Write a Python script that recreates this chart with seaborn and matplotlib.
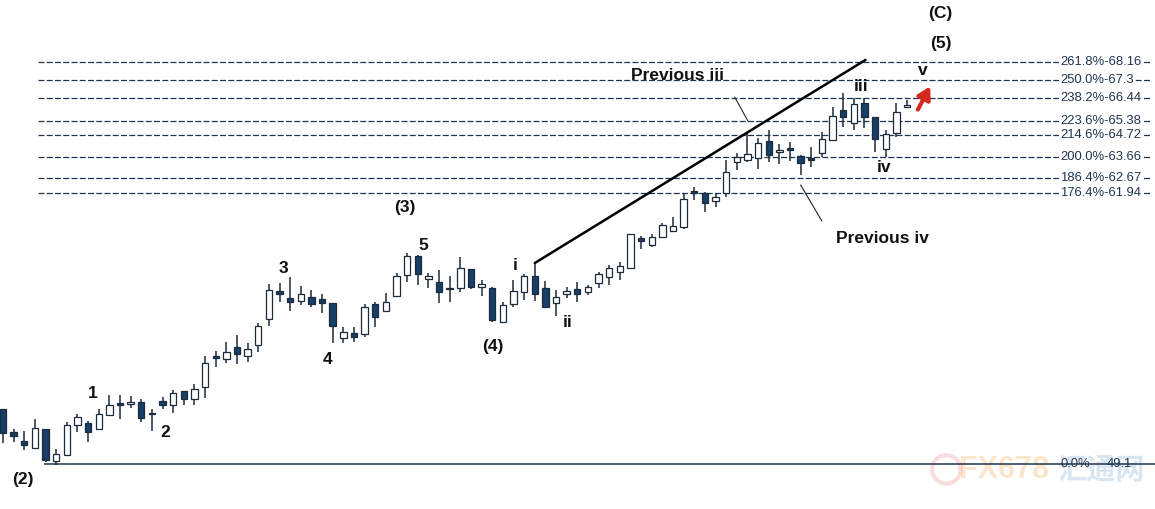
import numpy as np
import pandas as pd
import matplotlib
matplotlib.use('Agg')
import matplotlib.pyplot as plt
import seaborn as sns

sns.set_theme(style='white')
plt.rcParams['font.family'] = ['Liberation Sans', 'Noto Sans CJK SC', 'DejaVu Sans']

# candles (price units)
opens = [51.71, 50.62, 50.20, 49.86, 50.76, 49.25, 49.53, 50.95, 51.05, 50.76,
         51.43, 52.00, 51.95, 52.05, 51.52, 52.09, 51.90, 52.57, 52.19, 52.76,
         54.23, 54.08, 54.65, 54.23, 54.75, 55.98, 57.31, 56.97, 56.83, 57.02,
         56.93, 56.74, 55.08, 55.32, 55.27, 56.69, 56.36, 57.07, 58.07, 58.97,
         57.88, 57.73, 57.45, 57.45, 58.35, 57.50, 57.45, 55.84, 56.69, 57.26,
         58.02, 57.45, 56.74, 57.16, 57.40, 57.26, 57.69, 57.97, 58.21, 58.40,
         59.82, 59.49, 59.87, 60.15, 60.34, 62.05, 61.95, 61.57, 61.95, 63.42,
         63.52, 63.61, 64.41, 63.89, 64.08, 63.71, 63.61, 63.85, 64.46, 65.88,
         65.27, 66.22, 65.55, 64.04, 64.79, 66.03]
highs = [51.71, 50.76, 50.67, 51.24, 50.76, 49.82, 51.10, 51.48, 51.14, 51.71,
         52.38, 52.38, 52.33, 52.19, 51.71, 52.28, 52.61, 52.57, 52.90, 54.23,
         54.46, 54.89, 55.22, 54.84, 55.79, 57.64, 57.69, 57.97, 57.54, 57.35,
         57.16, 56.74, 55.60, 55.60, 56.69, 56.78, 57.21, 58.16, 59.11, 59.01,
         58.16, 58.30, 58.02, 58.92, 58.35, 57.83, 57.50, 56.78, 57.83, 58.11,
         58.63, 57.78, 57.35, 57.50, 57.73, 57.59, 58.21, 58.54, 58.68, 60.01,
         59.91, 60.01, 60.53, 60.81, 61.95, 62.24, 62.00, 61.95, 63.52, 63.85,
         64.79, 64.56, 64.94, 64.27, 64.37, 63.75, 64.13, 64.84, 66.03, 66.69,
         66.45, 66.45, 65.55, 64.94, 66.22, 66.36]
lows = [50.10, 50.15, 49.77, 49.86, 49.20, 49.05, 49.53, 50.62, 50.15, 50.76,
        51.43, 51.24, 51.76, 51.10, 50.67, 51.71, 51.52, 51.90, 51.90, 52.23,
        53.70, 53.89, 53.85, 53.94, 54.42, 55.65, 56.78, 56.36, 56.64, 56.55,
        56.26, 54.84, 54.84, 54.89, 55.13, 55.60, 56.36, 57.02, 57.73, 57.59,
        57.45, 56.74, 56.78, 57.26, 57.40, 57.07, 55.84, 55.79, 56.55, 56.88,
        56.83, 56.55, 56.12, 56.97, 56.78, 57.12, 57.45, 57.59, 57.83, 58.35,
        59.30, 59.39, 59.82, 60.10, 60.25, 61.62, 61.05, 61.29, 61.76, 63.04,
        63.42, 63.09, 63.42, 63.33, 63.47, 62.80, 63.18, 63.66, 64.41, 65.08,
        64.94, 65.03, 63.89, 63.66, 64.60, 66.03]
closes = [50.58, 50.43, 50.01, 50.81, 49.30, 49.58, 50.95, 51.33, 50.62, 51.48,
          51.90, 51.90, 52.05, 51.29, 51.48, 51.90, 52.47, 52.19, 52.66, 53.89,
          54.13, 54.42, 54.32, 54.56, 55.65, 57.35, 57.16, 56.78, 57.16, 56.69,
          56.74, 55.65, 55.36, 55.13, 56.55, 56.07, 56.78, 58.02, 58.97, 58.11,
          58.02, 57.26, 57.40, 58.40, 57.50, 57.64, 55.93, 56.64, 57.31, 58.02,
          57.16, 56.55, 57.02, 57.31, 57.16, 57.50, 58.11, 58.40, 58.49, 60.01,
          59.68, 59.87, 60.44, 60.39, 61.67, 61.95, 61.48, 61.76, 62.95, 63.66,
          63.80, 64.32, 63.75, 63.99, 63.99, 63.37, 63.52, 64.51, 65.60, 65.55,
          66.17, 65.55, 64.51, 64.75, 65.79, 66.12]

fib_pct = ['261.8%', '250.0%', '238.2%', '223.6%', '214.6%', '200.0%', '186.4%', '176.4%']
fib_val = [68.16, 67.3, 66.44, 65.38, 64.72, 63.66, 62.67, 61.94]
base_pct = '0.0%'
base_val = 49.1

# wave labels: text, candle position, price
wave_text = ['(C)', '(5)', 'v', 'iii', 'iv', '(3)', '5', '3', '4', '(4)', 'i', 'ii', '1', '2', '(2)']
wave_x = [88.1, 88.2, 86.5, 80.7, 82.8, 37.8, 39.5, 26.4, 30.5, 46.1, 48.2, 53.1, 8.4, 15.3, 1.9]
wave_y = [70.48, 69.06, 67.74, 66.98, 63.18, 61.24, 59.44, 58.35, 54.04, 54.65, 58.49, 55.79, 52.43, 50.62, 48.39]

trend_x = [50, 81.1]
trend_y = [58.63, 68.26]

df = pd.DataFrame({'open': opens, 'high': highs, 'low': lows, 'close': closes})
df['idx'] = np.arange(len(df))
df['down'] = df['close'] < df['open']

navy = '#173f68'
edge = '#1c2b3c'
line_col = '#1e3550'

fig = plt.figure(figsize=(11.55, 5.09), dpi=100)
ax = fig.add_axes([0, 0, 1, 1])
ax.set_xlim(-0.282, 108.32)
ax.set_ylim(46.97, 71.10)
ax.axis('off')

# watermark
ax.text(94.1, 48.8, 'FX678', fontsize=22, fontweight='bold', color='#f6c27e', alpha=0.4,
        ha='center', va='center', zorder=0)
ax.text(103.2, 48.8, '汇通网', fontsize=21, fontweight='bold', color='#9fbfdf', alpha=0.4,
        ha='center', va='center', family=['Noto Sans CJK SC'], zorder=0)
ax.scatter([88.7], [48.85], s=420, facecolors='none', edgecolors='#f0a0a0', linewidths=3,
           alpha=0.35, zorder=0)

# fibonacci levels
for p, v in zip(fib_pct, fib_val):
    ax.hlines(v, 3.3, 107.9, colors=line_col, linewidth=0.9, linestyles=(0, (4.8, 1.8)), zorder=1)
    ax.text(99.4, v, p + '-' + str(v), fontsize=9.4, color=line_col, ha='left', va='center',
            bbox=dict(facecolor='white', edgecolor='none', pad=0.6), zorder=2)
ax.hlines(base_val, 3.85, 108.32, colors=line_col, linewidth=1.1, zorder=1)
ax.text(99.4, base_val, base_pct, fontsize=9.4, color=line_col, ha='left', va='center', zorder=3)
ax.text(103.8, base_val, str(base_val), fontsize=9.4, color=line_col, ha='left', va='center', zorder=3)

# candles
ax.vlines(df['idx'], df['low'], df['high'], colors=edge, linewidth=1.1, zorder=3)
body_lo = df[['open', 'close']].min(axis=1)
body_h = (df['open'] - df['close']).abs().clip(lower=0.04)
fills = np.where(df['down'], navy, 'white')
ax.bar(df['idx'], body_h, bottom=body_lo, width=0.6, color=fills, edgecolor=edge,
       linewidth=0.9, zorder=4)

# trend line
sns.lineplot(x=trend_x, y=trend_y, color='black', linewidth=1.8, ax=ax, zorder=5)

# leaders
ax.plot([68.8, 70.05], [66.50, 65.36], color='#222222', linewidth=0.8, zorder=5)
ax.plot([75.0, 77.0], [62.33, 60.62], color='#222222', linewidth=0.8, zorder=5)
ax.text(63.4, 67.50, 'Previous iii', fontsize=12.5, fontweight='bold', color='#111111',
        ha='center', va='center', zorder=6)
ax.text(82.65, 59.77, 'Previous iv', fontsize=12.5, fontweight='bold', color='#111111',
        ha='center', va='center', zorder=6)

for t, x, y in zip(wave_text, wave_x, wave_y):
    ax.text(x, y, t, fontsize=12.5, fontweight='bold', color='#111111',
            ha='center', va='center', zorder=6)

# red arrow
ax.annotate('', xy=(87.3, 67.12), xytext=(85.9, 65.79),
            arrowprops=dict(arrowstyle='-|>,head_length=0.6,head_width=0.35',
                            color='#d42a22', linewidth=3), zorder=6)

fig.savefig('out.png', dpi=100)
